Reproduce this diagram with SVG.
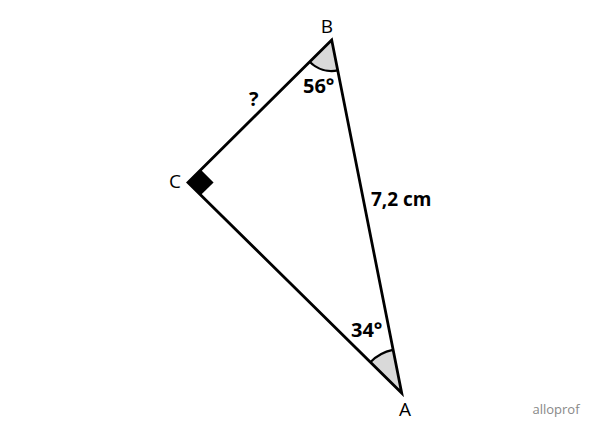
<svg xmlns="http://www.w3.org/2000/svg" width="600" height="437" viewBox="0 0 600 437">
<style>
.edge{stroke:#000;stroke-width:2.8;fill:none;stroke-linejoin:miter}
.fill{fill:#d9d9d9;stroke:none}
.arc{fill:none;stroke:#000;stroke-width:2.2}
.v{font-family:"Open Sans","Liberation Sans",sans-serif;font-size:19px;fill:#000;text-anchor:middle}
.m{font-family:"Open Sans","Liberation Sans",sans-serif;font-size:20px;font-weight:bold;fill:#000}
.logo{font-family:"Open Sans","Liberation Sans",sans-serif;font-size:13px;fill:#888;text-anchor:middle}
</style>
<rect width="600" height="437" fill="#fff"/>
<g id="angles">
<path class="fill" d="M331.7,40 L309.6,61.8 A31,31 0 0 0 337.9,70.4 Z"/>
<path class="arc" d="M309.6,61.8 A31,31 0 0 0 337.9,70.4"/>
<path class="fill" d="M401.7,393 L370.3,362.2 A44,44 0 0 1 392.8,349.9 Z"/>
<path class="arc" d="M370.3,362.2 A44,44 0 0 1 392.8,349.9"/>
<path d="M188,182.5 L200.8,169.8 L213.6,182.4 L200.8,195.1 Z" fill="#000"/>
</g>
<g id="connectors">
<path class="edge" d="M331.7,40 L188,182.5 L401.7,393 Z"/>
</g>
<g id="node-B"><text class="v" x="327" y="33">B</text></g>
<g id="node-C"><text class="v" x="175" y="188">C</text></g>
<g id="node-A"><text class="v" x="405" y="416">A</text></g>
<g id="labels">
<text class="m" x="303" y="93">56°</text>
<text class="m" x="351" y="337">34°</text>
<text class="m" x="371" y="206" style="font-size:19px">7,2 cm</text>
<text class="m" x="249" y="106">?</text>
<text class="logo" x="556" y="414">alloprof</text>
</g>
</svg>
